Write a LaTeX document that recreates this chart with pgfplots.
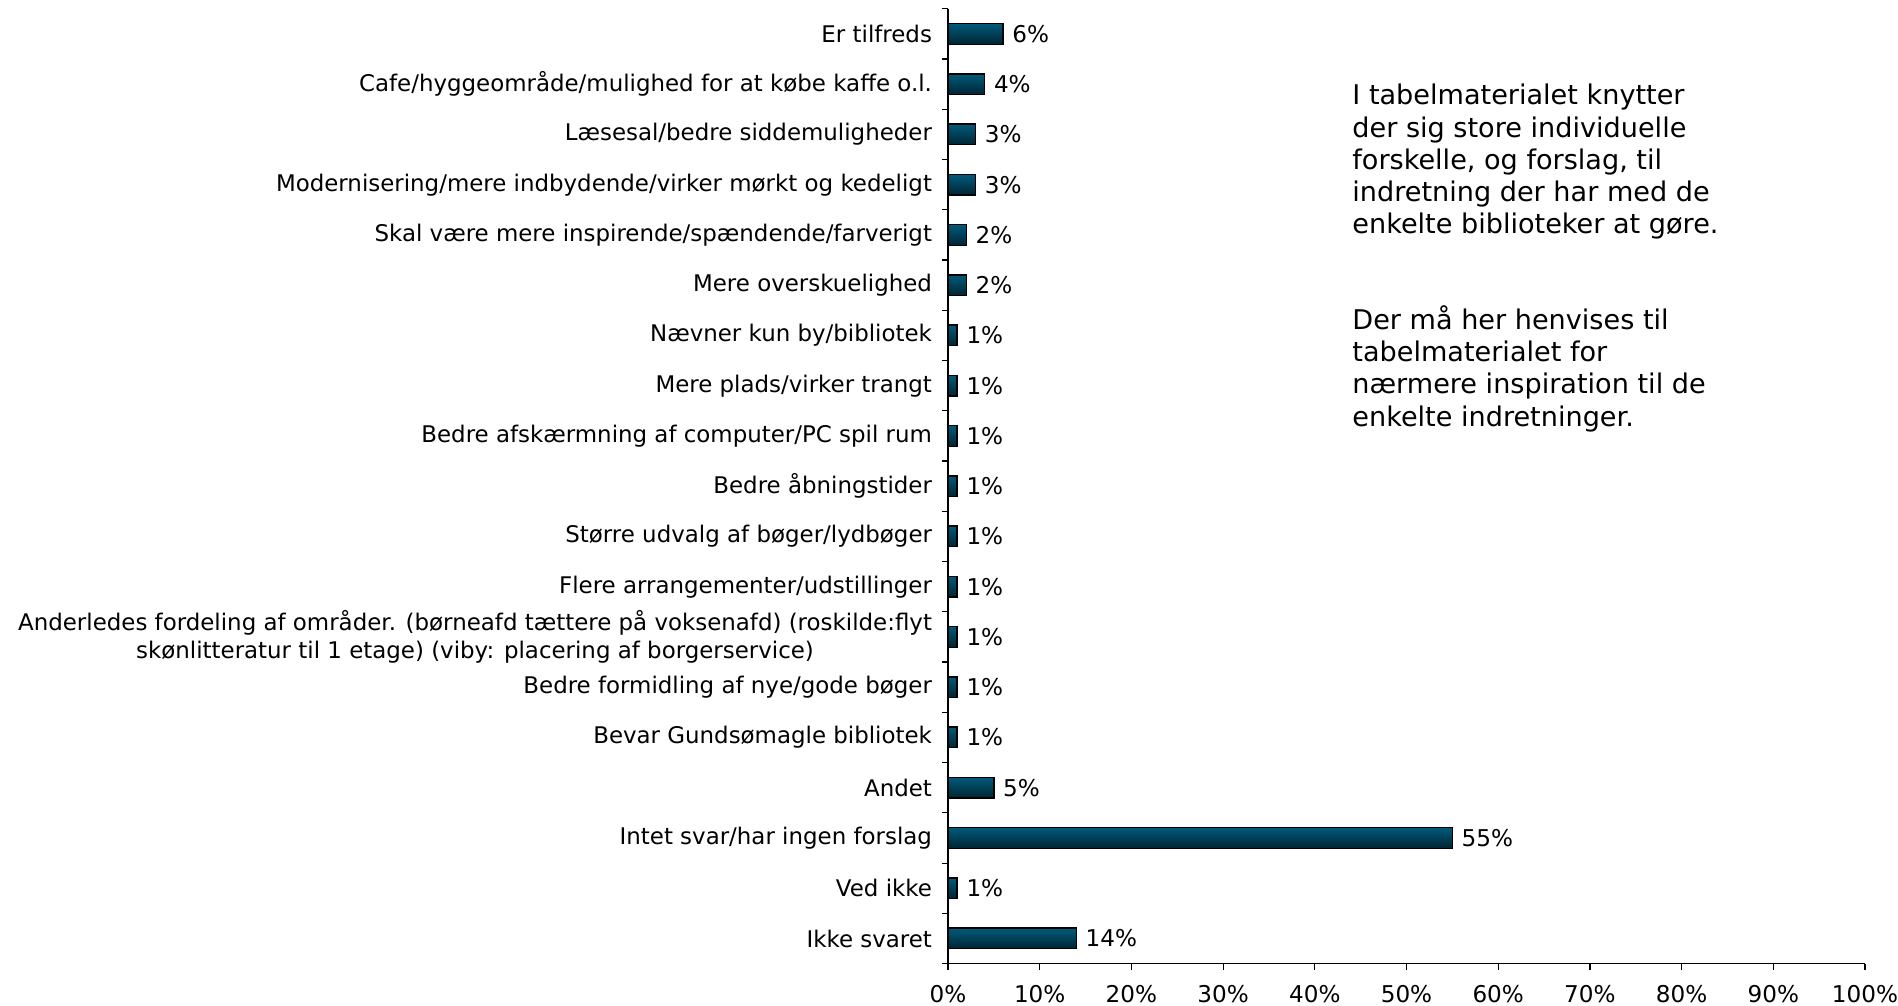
\documentclass[border=0pt]{standalone}
\usepackage{pgfplots}
\pgfplotsset{compat=1.18}
\usepackage{fontspec}
\setmainfont{DejaVu Sans}
\definecolor{bartop}{RGB}{0,90,122}
\definecolor{barmid}{RGB}{0,112,148}
\definecolor{barbot}{RGB}{0,36,50}
\pgfplotsset{mybar/.style={draw=black, line width=0.7pt, top color=bartop, middle color=barmid, bottom color=barbot, bar shift=0pt}}
\begin{document}
\begin{tikzpicture}
\useasboundingbox (0,0) rectangle (949bp,503bp);
\begin{axis}[
  at={(474bp,21.2bp)}, anchor=south west,
  scale only axis, width=458.5bp, height=477.4bp,
  xbar, bar width=10.3bp,
  xmin=0, xmax=100, ymin=-0.5, ymax=18.5, y dir=reverse,
  axis lines*=left,
  axis line style={black, line width=0.6pt},
  /pgf/number format/assume math mode=true,
  tick align=outside,
  major tick length=0pt, minor tick length=3bp,
  tick style={black, line width=0.6pt},
  xtick={0,10,...,100},
  minor xtick={0,10,...,100},
  xticklabel={\pgfmathprintnumber{\tick}\%},
  xticklabel style={font=\fontsize{11.6}{13}\selectfont, yshift=-7.5bp},
  ytick={0,...,18},
  minor ytick={-0.5,0.5,...,18.5},
  yticklabel style={font=\fontsize{11.5}{13.8}\selectfont, align=center, xshift=-4.5bp},
  yticklabels={
    Er tilfreds,
    Cafe/hyggeområde/mulighed for at købe kaffe o.l.,
    Læsesal/bedre siddemuligheder,
    Modernisering/mere indbydende/virker mørkt og kedeligt,
    Skal være mere inspirende/spændende/farverigt,
    Mere overskuelighed,
    Nævner kun by/bibliotek,
    Mere plads/virker trangt,
    Bedre afskærmning af computer/PC spil rum,
    Bedre åbningstider,
    Større udvalg af bøger/lydbøger,
    Flere arrangementer/udstillinger,
    {Anderledes fordeling af områder. (børneafd tættere på voksenafd) (roskilde:flyt\\skønlitteratur til 1 etage) (viby: placering af borgerservice)},
    Bedre formidling af nye/gode bøger,
    Bevar Gundsømagle bibliotek,
    Andet,
    Intet svar/har ingen forslag,
    Ved ikke,
    Ikke svaret
  },
  nodes near coords={\pgfmathprintnumber{\pgfplotspointmeta}\%},
  nodes near coords style={font=\fontsize{11.6}{13}\selectfont, anchor=west, xshift=1bp},
  clip=false,
]
\addplot[mybar] coordinates {(6,0)};
\addplot[mybar] coordinates {(4,1)};
\addplot[mybar] coordinates {(3,2)};
\addplot[mybar] coordinates {(3,3)};
\addplot[mybar] coordinates {(2,4)};
\addplot[mybar] coordinates {(2,5)};
\addplot[mybar] coordinates {(1,6)};
\addplot[mybar] coordinates {(1,7)};
\addplot[mybar] coordinates {(1,8)};
\addplot[mybar] coordinates {(1,9)};
\addplot[mybar] coordinates {(1,10)};
\addplot[mybar] coordinates {(1,11)};
\addplot[mybar] coordinates {(1,12)};
\addplot[mybar] coordinates {(1,13)};
\addplot[mybar] coordinates {(1,14)};
\addplot[mybar] coordinates {(5,15)};
\addplot[mybar] coordinates {(55,16)};
\addplot[mybar] coordinates {(1,17)};
\addplot[mybar] coordinates {(14,18)};
\end{axis}
\node[anchor=north west, align=left, inner sep=0pt, font=\fontsize{13.6}{16.1}\selectfont] at (676bp,461bp)
 {I tabelmaterialet knytter\\der sig store individuelle\\forskelle, og forslag, til\\indretning der har med de\\enkelte biblioteker at gøre.};
\node[anchor=north west, align=left, inner sep=0pt, font=\fontsize{13.6}{16.1}\selectfont] at (676bp,350.2bp)
 {Der må her henvises til\\tabelmaterialet for\\nærmere inspiration til de\\enkelte indretninger.};
\end{tikzpicture}
\end{document}
